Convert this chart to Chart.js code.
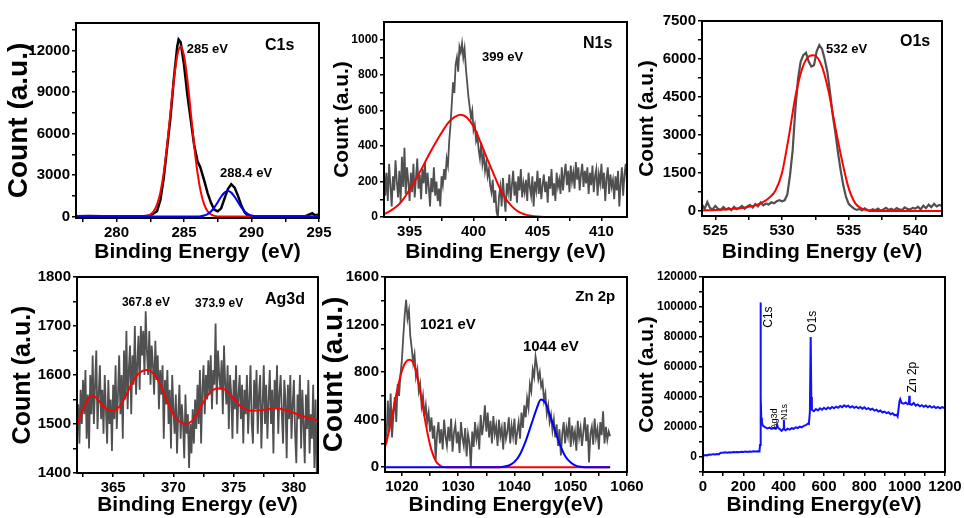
<!DOCTYPE html>
<html>
<head>
<meta charset="utf-8">
<script src="https://cdn.jsdelivr.net/npm/chart.js@4.4.0/dist/chart.umd.min.js"></script>
<style>
  body { margin: 0; background: #fff; width: 964px; height: 518px; overflow: hidden; position: relative; }
  canvas { position: absolute; }
</style>
</head>
<body>
<canvas id="c1s" width="335" height="265" style="left:0px;top:0px"></canvas>
<canvas id="n1s" width="325" height="265" style="left:325px;top:0px"></canvas>
<canvas id="o1s" width="331" height="265" style="left:633px;top:0px"></canvas>
<canvas id="ag3d" width="330" height="256" style="left:0px;top:262px"></canvas>
<canvas id="zn2p" width="334" height="256" style="left:316px;top:262px"></canvas>
<canvas id="survey" width="331" height="256" style="left:633px;top:262px"></canvas>
<script>
// ---------- C1s ----------
const c1sEnergy = [277, 278, 279, 280, 281, 282, 282.5, 283, 283.25, 283.5, 283.75, 284, 284.25, 284.5, 284.6, 284.75, 285, 285.25, 285.5, 285.75, 286, 286.2, 286.5, 286.75, 287, 287.25, 287.5, 287.75, 288, 288.25, 288.5, 288.75, 289, 289.25, 289.5, 289.75, 290, 291, 292, 293, 294, 294.5, 294.7, 295];
const c1sCount = [30, 40, 30, 20, 20, 30, 80, 400, 1200, 2800, 5000, 7200, 10000, 12300, 12800, 12600, 11000, 8800, 7000, 5200, 4000, 3600, 2600, 1700, 1000, 500, 380, 600, 1300, 2000, 2350, 2100, 1500, 800, 300, 60, 20, 20, 20, 20, 30, 250, 100, 150];
const c1sFitAEnergy = [277, 281.5, 282, 282.25, 282.5, 282.75, 283, 283.25, 283.5, 283.75, 284, 284.25, 284.5, 284.75, 285, 285.25, 285.5, 285.75, 286, 286.25, 286.5, 286.75, 287, 287.25, 287.5, 288, 295];
const c1sFitA = [0, 0, 15, 55, 150, 390, 870, 1750, 3180, 5170, 7560, 9900, 11650, 12300, 11650, 9900, 7560, 5170, 3180, 1750, 870, 390, 150, 55, 15, 0, 0];
const c1sFitBEnergy = [277, 286, 286.25, 286.5, 286.75, 287, 287.25, 287.5, 287.75, 288, 288.25, 288.5, 288.75, 289, 289.25, 289.5, 289.75, 290, 290.25, 290.5, 290.75, 291, 295];
const c1sFitB = [0, 10, 31, 81, 186, 376, 667, 1042, 1434, 1735, 1850, 1735, 1434, 1042, 667, 376, 186, 81, 31, 10, 0, 0, 0];
const c1sXMajor = [280, 285, 290, 295], c1sXMinor = [277.5, 282.5, 287.5, 292.5];
const c1sYMajor = [0, 3000, 6000, 9000, 12000], c1sYMinor = [1500, 4500, 7500, 10500, 13500];

// ---------- N1s (0.1 eV steps from 393 eV) ----------
const n1sStart = 393, n1sStep = 0.1;
const n1sCount = [280, 120, 250, 90, 300, 180, 60, 230, 150, 320, 200,
  110, 260, 80, 340, 170, 390, 130, 280, 200, 90,
  250, 140, 300, 110, 220, 330, 160, 240, 100, 270,
  190, 310, 130, 250, 170, 60, 220, 140, 280, 120,
  200, 90, 160, 60, 230, 180, 270, 210, 330, 290,
  430, 520, 640, 760, 700, 860, 900, 820, 960, 930,
  980, 900, 950, 840, 760, 680, 620, 560, 600, 490,
  520, 430, 460, 380, 330, 420, 300, 350, 260, 310,
  230, 270, 180, 140, 210, 80, 150, 30, 0, 120,
  170, 60, 220, 110, 30, 190, 140, 240, 90, 180,
  260, 120, 200, 80, 230, 150, 270, 110, 190, 140,
  210, 90, 250, 170, 120, 230, 60, 200, 150, 260,
  130, 220, 100, 180, 240, 140, 200, 80, 230, 160,
  270, 120, 190, 90, 250, 170, 210, 130, 280, 150,
  240, 300, 180, 260, 140, 290, 200, 250, 160, 310,
  210, 280, 150, 240, 300, 170, 260, 190, 280, 130,
  250, 180, 290, 140, 230, 270, 120, 240, 190, 300,
  160, 250, 90, 220, 280, 130, 240, 170, 210, 100,
  230, 150, 260, 60, 190, 280, 120, 240, 300, 180];
const n1sFitEnergy = [393, 393.5, 394, 394.5, 395, 395.5, 396, 396.5, 397, 397.5, 398, 398.5, 399, 399.5, 400, 400.5, 401, 401.5, 402, 402.5, 403, 403.5, 404, 404.5, 405, 406, 412];
const n1sFit = [15, 35, 60, 100, 155, 215, 280, 350, 415, 475, 530, 563, 577, 560, 510, 430, 340, 255, 170, 105, 60, 30, 15, 7, 3, 0, 0];
const n1sXMajor = [395, 400, 405, 410], n1sXMinor = [397.5, 402.5, 407.5];
const n1sYMajor = [0, 200, 400, 600, 800, 1000], n1sYMinor = [100, 300, 500, 700, 900];

// ---------- O1s (0.2 eV steps from 524 eV) ----------
const o1sStart = 524, o1sStep = 0.2;
const o1sCount = [250, 80, 350, 120, 60, 200, 90, 40, 150, 60,
  110, 30, 160, 70, 120, 200, 90, 180, 240, 130,
  270, 180, 330, 220, 290, 250, 340, 300, 380, 420,
  380, 420, 650, 1400, 2400, 4000, 5200, 5900, 6150, 6250,
  5900, 5700, 5750, 6300, 6550, 6400, 6000, 5500, 4700, 3800,
  3100, 2300, 1600, 1000, 550, 280, 180, 90, 40, 80,
  20, 100, 40, 0, 70, 30, 90, 10, 60, 120,
  40, 90, 20, 110, 60, 30, 140, 80, 50, 120,
  90, 170, 60, 210, 110, 250, 150, 280, 180, 240,
  200];
const o1sFitEnergy = [524, 525, 526, 527, 528, 528.5, 529, 529.5, 530, 530.5, 531, 531.5, 532, 532.4, 533, 533.5, 534, 534.5, 535, 535.5, 536, 536.5, 537, 542];
const o1sFit = [20, 40, 70, 120, 220, 330, 500, 800, 1500, 2900, 4500, 5600, 6100, 6150, 5700, 4700, 3300, 2000, 900, 300, 90, 20, 0, 0];
const o1sXMajor = [525, 530, 535, 540], o1sXMinor = [527.5, 532.5, 537.5];
const o1sYMajor = [0, 1500, 3000, 4500, 6000, 7500], o1sYMinor = [750, 2250, 3750, 5250, 6750];

// ---------- Ag3d (0.1 eV steps from 362 eV) ----------
const agStart = 362, agStep = 0.1;
const agCount = [1480, 1540, 1460, 1570, 1500, 1590, 1520, 1610, 1470, 1560,
  1450, 1600, 1520, 1640, 1500, 1580, 1650, 1490, 1560, 1620,
  1510, 1570, 1480, 1600, 1530, 1460, 1590, 1500, 1550, 1445,
  1580, 1510, 1620, 1490, 1560, 1640, 1520, 1600, 1470, 1650,
  1550, 1690, 1530, 1610, 1660, 1520, 1640, 1580, 1700, 1560,
  1620, 1680, 1570, 1700, 1640, 1690, 1600, 1730, 1650, 1600,
  1690, 1580, 1660, 1620, 1560, 1670, 1590, 1640, 1530, 1610,
  1560, 1620, 1470, 1590, 1540, 1610, 1500, 1570, 1450, 1600,
  1530, 1480, 1560, 1440, 1520, 1580, 1470, 1540, 1500, 1430,
  1560, 1480, 1520, 1410, 1500, 1440, 1530, 1460, 1550, 1490,
  1580, 1500, 1610, 1460, 1570, 1620, 1520, 1600, 1550, 1630,
  1560, 1640, 1530, 1610, 1580, 1705, 1540, 1650, 1600, 1570,
  1630, 1520, 1660, 1580, 1540, 1620, 1490, 1600, 1560, 1470,
  1590, 1530, 1620, 1480, 1560, 1600, 1510, 1580, 1460, 1570,
  1520, 1600, 1480, 1550, 1620, 1500, 1460, 1590, 1530, 1610,
  1480, 1560, 1600, 1450, 1540, 1620, 1500, 1580, 1470, 1550,
  1610, 1500, 1570, 1440, 1590, 1530, 1620, 1480, 1560, 1600,
  1520, 1460, 1590, 1550, 1430, 1580, 1510, 1600, 1470, 1540,
  1590, 1480, 1420, 1560, 1510, 1600, 1450, 1570, 1500, 1420,
  1560, 1490, 1590, 1440, 1520, 1470, 1580, 1410, 1550, 1400,
  1500];
const agFitEnergy = [362, 362.5, 363, 363.3, 363.8, 364.3, 364.9, 365.5, 366, 366.5, 367, 367.8, 368.5, 369, 369.5, 370, 370.5, 371, 371.5, 372, 372.5, 373, 373.5, 374, 374.5, 375, 375.5, 376, 376.6, 377.5, 378.5, 379.5, 380.5, 381.3, 382];
const agFit = [1498, 1530, 1554, 1558, 1548, 1533, 1527, 1535, 1555, 1580, 1600, 1610, 1598, 1575, 1545, 1520, 1505, 1500, 1505, 1522, 1545, 1563, 1572, 1573, 1566, 1552, 1538, 1530, 1527, 1529, 1532, 1527, 1518, 1512, 1507];
const agXMajor = [365, 370, 375, 380], agXMinor = [362.5, 367.5, 372.5, 377.5];
const agYMajor = [1400, 1500, 1600, 1700, 1800], agYMinor = [1450, 1550, 1650, 1750];

// ---------- Zn 2p (0.25 eV steps from 1017 eV) ----------
const znStart = 1017, znStep = 0.25;
const znCount = [380, 200, 560, 300, 620, 250, 450, 590, 380, 700,
  600, 780, 900, 1100, 1280, 1409, 1250, 1320, 1100, 1000,
  880, 950, 760, 820, 640, 700, 520, 600, 430, 520,
  380, 460, 300, 420, 240, 350, 60, 280, 380, 200,
  320, 150, 400, 260, 180, 340, 220, 410, 130, 290,
  360, 200, 300, 120, 380, 250, 180, 330, 90, 280,
  210, 0, 300, 170, 380, 240, 320, 150, 440, 270,
  360, 520, 300, 460, 250, 390, 200, 430, 280, 350,
  180, 400, 260, 330, 150, 380, 240, 300, 420, 200,
  350, 260, 410, 190, 300, 380, 240, 460, 330, 520,
  420, 580, 500, 700, 640, 820, 760, 930, 850, 740,
  800, 680, 720, 560, 620, 450, 520, 380, 440, 310,
  400, 250, 360, 180, 320, 100, 280, 380, 200, 330,
  260, 420, 170, 350, 230, 300, 140, 390, 250, 330,
  180, 300, 420, 220, 360, 40, 280, 340, 190, 410,
  250, 320, 150, 380, 270, 470, 200, 340, 230, 300,
  260];
const znFitAEnergy = [1017, 1017.5, 1018, 1018.5, 1019, 1019.5, 1020, 1020.5, 1021, 1021.4, 1022, 1022.5, 1023, 1023.5, 1024, 1024.5, 1025, 1025.5, 1026, 1026.5, 1027, 1028, 1057];
const znFitA = [170, 260, 370, 490, 610, 720, 810, 870, 900, 905, 880, 810, 700, 570, 430, 300, 190, 110, 55, 25, 8, 0, 0];
const znFitBEnergy = [1017, 1037, 1038, 1039, 1040, 1041, 1042, 1043, 1044, 1044.7, 1045.5, 1046, 1047, 1048, 1049, 1050, 1051, 1052, 1053, 1057];
const znFitB = [0, 0, 5, 15, 45, 110, 220, 360, 500, 570, 540, 480, 340, 200, 95, 40, 12, 3, 0, 0];
const znXMajor = [1020, 1030, 1040, 1050, 1060], znXMinor = [1025, 1035, 1045, 1055];
const znYMajor = [0, 400, 800, 1200, 1600], znYMinor = [200, 600, 1000, 1400];

// ---------- Survey ----------
const surveyEnergy = [0, 10, 20, 30, 40, 50, 60, 70, 80, 85, 90, 100, 110, 120, 130, 140, 150, 160, 170, 180, 190, 200, 210, 220, 230, 240, 250, 260, 270, 280, 283, 285, 287, 289, 292, 295, 300, 310, 320, 330, 340, 350, 360, 365, 368, 372, 380, 385, 390, 395, 399, 401, 403, 410, 420, 430, 440, 450, 460, 470, 480, 490, 500, 510, 520, 525, 530, 534, 537, 540, 550, 560, 570, 580, 590, 600, 610, 620, 630, 640, 650, 660, 670, 680, 690, 700, 710, 720, 730, 740, 750, 760, 770, 780, 790, 800, 810, 820, 830, 840, 850, 860, 870, 880, 890, 900, 910, 920, 930, 940, 950, 960, 965, 968, 974, 978, 985, 995, 1005, 1015, 1021, 1023, 1025, 1035, 1045, 1055, 1065, 1075, 1085, 1095, 1105, 1115, 1125, 1135, 1145, 1155, 1165, 1175, 1185, 1200];
const surveyCount = [600, 1300, 1100, 1600, 1500, 1900, 1700, 2000, 1900, 2600, 2900, 2800, 3100, 2900, 3200, 3000, 3300, 3100, 3400, 3200, 3500, 3300, 3600, 3400, 3700, 3500, 3800, 3600, 3900, 3700, 8000, 103000, 40000, 26000, 23500, 21500, 20500, 19800, 19000, 19600, 18700, 19300, 18800, 20000, 21500, 19500, 18600, 18000, 17400, 18300, 19000, 24700, 18500, 17800, 18900, 18300, 19200, 18800, 19800, 19300, 20200, 19700, 20800, 21200, 22300, 22000, 30000, 80000, 40000, 31500, 30500, 32000, 31000, 32500, 31500, 32800, 31800, 33000, 32200, 33400, 32500, 33600, 32800, 34000, 33200, 34500, 33500, 34200, 33000, 33900, 32800, 33600, 32500, 33400, 32200, 33100, 31900, 32600, 31500, 32200, 30900, 31600, 30300, 31000, 29700, 30300, 29200, 29800, 28500, 29200, 27800, 28200, 27000, 30000, 37000, 38500, 36000, 35500, 36300, 35200, 36000, 40800, 35300, 34800, 36000, 34200, 35000, 33800, 34600, 33500, 34300, 33200, 34000, 32900, 33700, 32600, 33400, 32400, 33200, 32600];
const surveyXMajor = [0, 200, 400, 600, 800, 1000, 1200], surveyXMinor = [100, 300, 500, 700, 900, 1100];
const surveyYMajor = [0, 20000, 40000, 60000, 80000, 100000, 120000], surveyYMinor = [-10000, 10000, 30000, 50000, 70000, 90000, 110000];

const FONT = '"Liberation Sans", Arial, sans-serif';

function pts(xs, ys) { return ys.map((y, i) => ({ x: xs[i], y: y })); }
function grid(start, step, ys) { return ys.map((y, i) => ({ x: +(start + i * step).toFixed(3), y: y })); }

const boxPlugin = {
  id: 'box',
  afterDatasetsDraw(chart) {
    const a = chart.chartArea, ctx = chart.ctx;
    ctx.save();
    ctx.strokeStyle = '#000';
    ctx.lineWidth = 2;
    ctx.strokeRect(a.left, a.top, a.right - a.left, a.bottom - a.top);
    ctx.restore();
  }
};

function notes(items) {
  return {
    id: 'notes',
    afterDraw(chart) {
      const ctx = chart.ctx;
      items.forEach(n => {
        const x = chart.scales.x.getPixelForValue(n.x);
        const y = chart.scales.y.getPixelForValue(n.y);
        ctx.save();
        ctx.translate(x, y);
        if (n.rot) ctx.rotate(-Math.PI / 2);
        ctx.font = n.font + ' ' + FONT;
        ctx.textAlign = n.align || 'left';
        ctx.textBaseline = 'middle';
        ctx.fillStyle = '#000';
        ctx.fillText(n.text, 0, 0);
        ctx.restore();
      });
    }
  };
}

function axis(min, max, major, minor, size, title, titleSize, titlePad, fit, dim) {
  return {
    type: 'linear',
    min: min,
    max: max,
    afterBuildTicks: s => { s.ticks = major.concat(minor).sort((a, b) => a - b).map(v => ({ value: v })); },
    afterFit: s => { s[dim] = fit; },
    ticks: {
      autoSkip: false, maxRotation: 0, padding: 2, color: '#000',
      font: { family: FONT, size: size, weight: 'bold' },
      callback: v => major.includes(v) ? String(v) : ''
    },
    grid: { drawOnChartArea: false, drawTicks: true, tickLength: 4, color: '#000', lineWidth: 1.5 },
    border: { display: false },
    title: {
      display: true, text: title, color: '#000',
      font: { family: FONT, size: titleSize, weight: 'bold' },
      padding: { top: titlePad, bottom: 0 }
    }
  };
}

function line(data, color, width, smooth, order) {
  return {
    data: data, borderColor: color, borderWidth: width, pointRadius: 0, fill: false,
    cubicInterpolationMode: smooth ? 'monotone' : 'default', tension: 0, order: order
  };
}

function panel(id, p) {
  new Chart(document.getElementById(id), {
    type: 'line',
    data: { datasets: p.datasets },
    options: {
      responsive: false,
      animation: false,
      parsing: false,
      layout: { padding: { top: p.pad[0], right: p.pad[1], bottom: 0, left: 0 } },
      plugins: { legend: { display: false }, tooltip: { enabled: false } },
      scales: {
        x: axis(p.x[0], p.x[1], p.x[2], p.x[3], 15, p.xTitle, 21, 2, p.xH, 'height'),
        y: axis(p.y[0], p.y[1], p.y[2], p.y[3], p.ySize, 'Count (a.u.)', p.yTitleSize, p.yTitlePad, p.yW, 'width')
      }
    },
    plugins: [boxPlugin, notes(p.notes)]
  });
}

const GRAY = '#505050';

panel('c1s', {
  pad: [23, 16], yW: 76, xH: 47, ySize: 15, yTitleSize: 28, yTitlePad: 2,
  x: [277, 295, c1sXMajor, c1sXMinor], y: [-100, 14000, c1sYMajor, c1sYMinor],
  xTitle: 'Binding Energy  (eV)',
  datasets: [
    line(pts(c1sEnergy, c1sCount), '#000000', 2.5, false, 3),
    line(pts(c1sFitAEnergy, c1sFitA), '#ff0000', 2, true, 2),
    line(pts(c1sFitBEnergy, c1sFitB), '#0000ff', 2, true, 1)
  ],
  notes: [
    { x: 285.2, y: 12120, text: '285 eV', font: 'bold 13px' },
    { x: 291.0, y: 12400, text: 'C1s', font: 'bold 16px' },
    { x: 287.67, y: 3150, text: '288.4 eV', font: 'bold 13px' }
  ]
});

panel('n1s', {
  pad: [22, 23], yW: 59, xH: 48, ySize: 12, yTitleSize: 21, yTitlePad: 5,
  x: [393, 412, n1sXMajor, n1sXMinor], y: [0, 1100, n1sYMajor, n1sYMinor],
  xTitle: 'Binding Energy (eV)',
  datasets: [
    line(grid(n1sStart, n1sStep, n1sCount), GRAY, 1.8, false, 3),
    line(pts(n1sFitEnergy, n1sFit), '#ff0000', 2, true, 2)
  ],
  notes: [
    { x: 400.66, y: 902, text: '399 eV', font: 'bold 13px' },
    { x: 408.56, y: 981, text: 'N1s', font: 'bold 16px' }
  ]
});

panel('o1s', {
  pad: [21, 22], yW: 69, xH: 49, ySize: 15, yTitleSize: 21, yTitlePad: 2,
  x: [524, 542, o1sXMajor, o1sXMinor], y: [-200, 7500, o1sYMajor, o1sYMinor],
  xTitle: 'Binding Energy (eV)',
  datasets: [
    line(grid(o1sStart, o1sStep, o1sCount), GRAY, 2.2, false, 3),
    line(pts(o1sFitEnergy, o1sFit), '#ff0000', 2, true, 2)
  ],
  notes: [
    { x: 533.3, y: 6394, text: '532 eV', font: 'bold 13px' },
    { x: 538.85, y: 6670, text: 'O1s', font: 'bold 16px' }
  ]
});

panel('ag3d', {
  pad: [15, 12], yW: 77, xH: 45, ySize: 15, yTitleSize: 25, yTitlePad: 8,
  x: [362, 382, agXMajor, agXMinor], y: [1400, 1800, agYMajor, agYMinor],
  xTitle: 'Binding Energy (eV)',
  datasets: [
    line(grid(agStart, agStep, agCount), GRAY, 1.8, false, 3),
    line(pts(agFitEnergy, agFit), '#ff0000', 2, true, 2)
  ],
  notes: [
    { x: 365.73, y: 1747, text: '367.8 eV', font: 'bold 12px' },
    { x: 371.8, y: 1745, text: '373.9 eV', font: 'bold 12px' },
    { x: 377.6, y: 1753, text: 'Ag3d', font: 'bold 16px' }
  ]
});

panel('zn2p', {
  pad: [15, 23], yW: 69, xH: 46, ySize: 15, yTitleSize: 28, yTitlePad: 1,
  x: [1017, 1060, znXMajor, znXMinor], y: [-40, 1600, znYMajor, znYMinor],
  xTitle: 'Binding Energy(eV)',
  datasets: [
    line(grid(znStart, znStep, znCount), GRAY, 1.8, false, 3),
    line(pts(znFitAEnergy, znFitA), '#ff0000', 2, true, 2),
    line(pts(znFitBEnergy, znFitB), '#0000ff', 2, true, 1)
  ],
  notes: [
    { x: 1023.2, y: 1196, text: '1021 eV', font: 'bold 15px' },
    { x: 1041.5, y: 1011, text: '1044 eV', font: 'bold 15px' },
    { x: 1050.8, y: 1431, text: 'Zn 2p', font: 'bold 15px' }
  ]
});

panel('survey', {
  pad: [15, 19], yW: 70, xH: 46, ySize: 12, yTitleSize: 21, yTitlePad: 2,
  x: [0, 1200, surveyXMajor, surveyXMinor], y: [-10000, 120000, surveyYMajor, surveyYMinor],
  xTitle: 'Binding Energy(eV)',
  datasets: [
    line(pts(surveyEnergy, surveyCount), '#1010ff', 2, false, 1)
  ],
  notes: [
    { x: 327, y: 93300, text: 'C1s', font: '12px', rot: true, align: 'center' },
    { x: 544, y: 90200, text: 'O1s', font: '12px', rot: true, align: 'center' },
    { x: 357, y: 25300, text: 'Ag3d', font: '9px', rot: true, align: 'center' },
    { x: 406.5, y: 30000, text: 'N1s', font: '9px', rot: true, align: 'center' },
    { x: 1038.7, y: 53300, text: 'Zn 2p', font: '12px', rot: true, align: 'center' }
  ]
});
</script>
</body>
</html>
